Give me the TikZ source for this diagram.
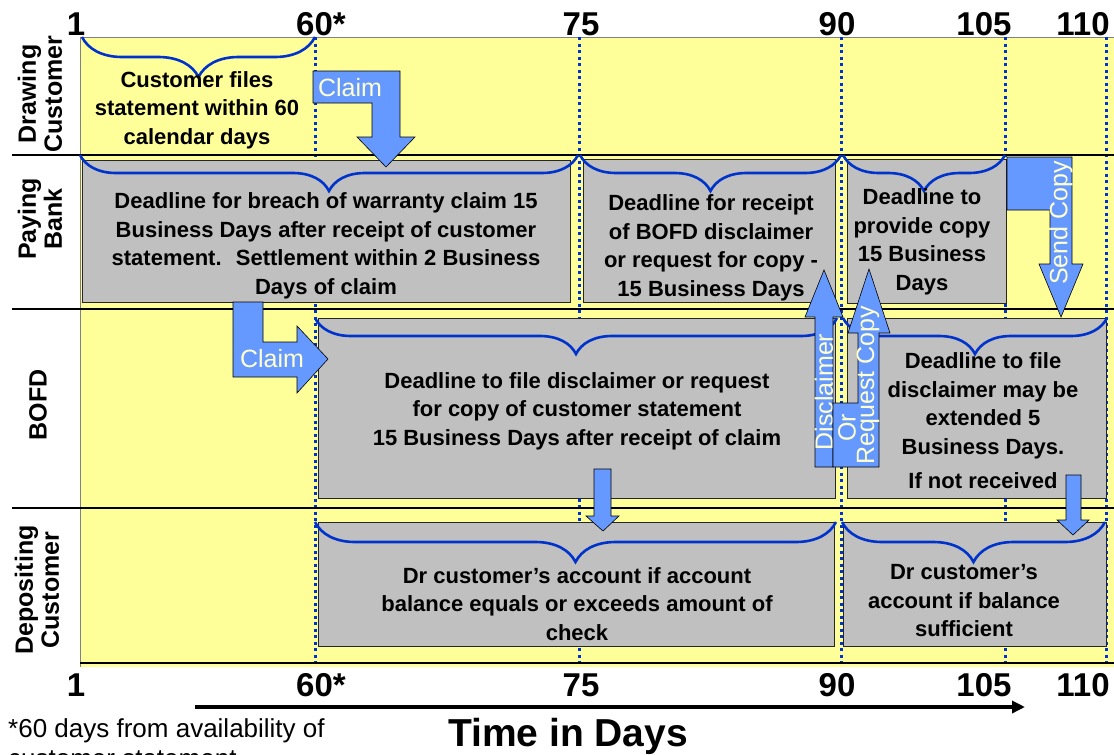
\documentclass[tikz,border=0pt]{standalone}
\usepackage{fontspec}
\setmainfont{Liberation Sans}
\usepackage{tikz}
\usetikzlibrary{positioning,calc,arrows.meta,decorations.pathreplacing}

\definecolor{laneyellow}{HTML}{FFFF99}
\definecolor{boxgray}{HTML}{C0C0C0}
\definecolor{arrowblue}{HTML}{6699FF}
\definecolor{braceblue}{HTML}{0033CC}
\definecolor{arrowtxt}{HTML}{FFFFCC}

\begin{document}
\begin{tikzpicture}[
    x=1pt, y=-1pt,
    lanelabel/.style={rotate=90, align=center, inner sep=0pt, font=\bfseries\fontsize{25}{26}\selectfont},
    daylabel/.style={anchor=base, inner sep=0pt, font=\bfseries\fontsize{33}{33}\selectfont},
    taskbox/.style={draw=black!85, fill=boxgray, line width=0.8pt, anchor=north west, inner sep=0pt},
    tasktext/.style={align=center, inner sep=0pt, font=\bfseries\fontsize{22}{28.5}\selectfont},
    span/.style={draw=braceblue, line width=2.6pt, decorate, decoration={brace, mirror, amplitude=#1}},
    span/.default=36pt,
    daymark/.style={draw=braceblue, line width=3pt, dash pattern=on 3pt off 3.5pt},
    blockarrow/.style={draw=black, fill=arrowblue, line width=0.6pt, line join=miter},
    arrowlabel/.style={text=arrowtxt, inner sep=0pt, font=\fontsize{25}{26}\selectfont}
]
    \useasboundingbox (0,0) rectangle (1114,755);

    % swim lanes
    \fill[laneyellow] (80,37) rectangle (1114,667);
    \draw[gray, line width=0.8pt] (80,667) -- (80,37) -- (1114,37);
    \foreach \x in {315,579,841,1005,1106}
        \draw[daymark] (\x,37) -- (\x,663);
    \foreach \y in {155,309,508}
        \draw[line width=1.2pt] (12,\y) -- (1114,\y);
    \draw[line width=1.2pt] (80,663) -- (1114,663);

    \node[lanelabel] (drawing) at (40,94) {Drawing\\Customer};
    \node[lanelabel] (paying) at (40,219) {Paying\\Bank};
    \node[lanelabel] (bofd) at (38,405) {BOFD};
    \node[lanelabel] (depositing) at (37,590) {Depositing\\Customer};

    % day scale, top and bottom
    \foreach \x/\d/\n in {76/1/a,321/60*/b,581/75/c,837/90/d,984/105/e,1083/110/f} {
        \node[daylabel] (top\n) at (\x,35) {\d};
        \node[daylabel] (bot\n) at (\x,696) {\d};
    }

    % deadline boxes
    \node[taskbox, minimum width=488pt, minimum height=142pt] (breach) at (82,160) {};
    \node[taskbox, minimum width=252pt, minimum height=143pt] (receipt) at (583,159) {};
    \node[taskbox, minimum width=159pt, minimum height=144pt] (provide) at (847,159) {};
    \node[taskbox, minimum width=517pt, minimum height=180pt] (fileclaim) at (318,318) {};
    \node[taskbox, minimum width=259pt, minimum height=180pt] (extend) at (847,318) {};
    \node[taskbox, minimum width=516pt, minimum height=124pt] (debit) at (318,522) {};
    \node[taskbox, minimum width=263pt, minimum height=124pt] (debitbal) at (843,522) {};

    \draw[span=40pt] (82,37) -- (315,37);
    \draw[span] (80,155) -- (578,155);
    \draw[span] (580,155) -- (841,155);
    \draw[span] (843,155) -- (1005,155);
    \draw[span] (315,318) -- (837,318);
    \draw[span] (843,318) -- (1107,318);
    \draw[span=40pt] (315,522) -- (836,522);
    \draw[span=40pt] (842,522) -- (1105,522);

    \node[tasktext] (filestxt) at (197,110) {Customer files\\statement within 60\\calendar days};
    \node[tasktext] (breachtxt) at (326,246) {Deadline for breach of warranty claim 15\\Business Days after receipt of customer\\statement.~ Settlement within 2 Business\\Days of claim};
    \node[tasktext] (receipttxt) at (711,248) {Deadline for receipt\\of BOFD disclaimer\\or request for copy -\\15 Business Days};
    \node[tasktext] (providetxt) at (922,242) {Deadline to\\provide copy\\15 Business\\Days};
    \node[tasktext] (fileclaimtxt) at (577,411) {Deadline to file disclaimer or request\\for copy of customer statement\\15 Business Days after receipt of claim};
    \node[tasktext] (extendtxt) at (983,421) {Deadline to file\\disclaimer may be\\extended 5\\Business Days.\\[6pt]If not received};
    \node[tasktext] (debittxt) at (577,604) {Dr customer’s account if account\\balance equals or exceeds amount of\\check};
    \node[tasktext] (debitbaltxt) at (964,601) {Dr customer’s\\account if balance\\sufficient};

    % hand-offs between the parties
    \draw[blockarrow] (313,71) -- (400,71) -- (400,137) -- (415,137) -- (386,167) -- (357,137) -- (372,137) -- (372,103) -- (313,103) -- cycle;
    \node[arrowlabel] (claimone) at (350,88) {Claim};
    \draw[blockarrow] (233,302) -- (263,302) -- (263,342) -- (297,342) -- (297,326) -- (328,359) -- (297,393) -- (297,377) -- (233,377) -- cycle;
    \node[arrowlabel] (claimtwo) at (272,359) {Claim};
    \draw[blockarrow] (1007,157) -- (1072,157) -- (1072,264) -- (1083,264) -- (1061,317) -- (1039,264) -- (1050,264) -- (1050,210) -- (1007,210) -- cycle;
    \node[arrowlabel, rotate=90] (sendcopy) at (1061,223) {Send Copy};
    \draw[blockarrow] (815,467) -- (815,317) -- (805,317) -- (824,270) -- (843,317) -- (833,317) -- (833,467) -- cycle;
    \node[arrowlabel, rotate=90] (disclaimer) at (824,392) {Disclaimer};
    \draw[blockarrow] (833,467) -- (833,403) -- (858,403) -- (858,333) -- (848,333) -- (869,269) -- (890,333) -- (879,333) -- (879,467) -- cycle;
    \node[arrowlabel, rotate=90] (orlbl) at (847,428) {Or};
    \node[arrowlabel, rotate=90] (request) at (868,385) {Request Copy};
    \draw[blockarrow] (594,469) -- (611,469) -- (611,516) -- (619,516) -- (603,531) -- (586,516) -- (594,516) -- cycle;
    \draw[blockarrow] (1066,475) -- (1081,475) -- (1081,520) -- (1089,520) -- (1073,535) -- (1057,520) -- (1066,520) -- cycle;

    % time axis
    \coordinate (tstart) at (195,707);
    \coordinate (tend) at (1025,707);
    \draw[line width=4pt, -{Triangle[length=13pt, width=12pt]}] (tstart) -- (tend);
    \node[anchor=base, inner sep=0pt, font=\bfseries\fontsize{39}{40}\selectfont] (timelbl) at (568,746) {Time in Days};
    \node[anchor=north west, align=left, inner sep=0pt, font=\fontsize{26}{30}\selectfont] (note) at (8,718) {*60 days from availability of\\customer statement};
\end{tikzpicture}
\end{document}
